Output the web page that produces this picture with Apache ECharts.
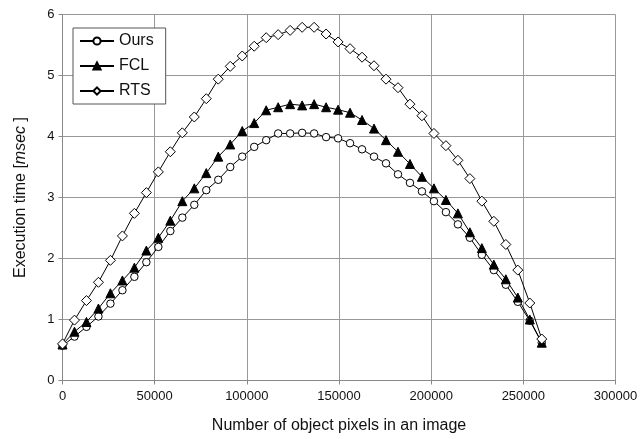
<!DOCTYPE html>
<html><head><meta charset="utf-8">
<script src="https://cdn.jsdelivr.net/npm/echarts@6/dist/echarts.min.js"></script>
<style>html,body{margin:0;padding:0;background:#fff}#c{width:641px;height:439px}</style>
</head><body><div id="c"></div>
<script>
var xStep = 6500;
var xValues = [];
for (var k = 0; k <= 40; k++) xValues.push(k * xStep);
var ours = [0.57,0.72,0.88,1.05,1.26,1.48,1.70,1.94,2.19,2.45,2.67,2.88,3.12,3.29,3.50,3.67,3.83,3.94,4.05,4.05,4.06,4.05,3.99,3.97,3.89,3.79,3.67,3.56,3.38,3.24,3.10,2.94,2.76,2.56,2.34,2.06,1.81,1.57,1.29,0.98,0.62];
var fcl = [0.59,0.80,0.96,1.18,1.43,1.64,1.85,2.13,2.34,2.62,2.94,3.15,3.40,3.67,3.87,4.09,4.22,4.43,4.48,4.53,4.51,4.53,4.48,4.44,4.39,4.27,4.13,3.94,3.75,3.55,3.34,3.15,2.96,2.74,2.43,2.17,1.90,1.66,1.36,1.00,0.62];
var rts = [0.60,0.99,1.31,1.61,1.97,2.37,2.74,3.08,3.42,3.75,4.06,4.32,4.62,4.94,5.15,5.32,5.48,5.62,5.67,5.74,5.79,5.79,5.68,5.55,5.44,5.30,5.16,4.94,4.80,4.53,4.34,4.05,3.85,3.61,3.31,2.94,2.61,2.23,1.81,1.27,0.68];
var names = ['Ours','FCL','RTS'];

function pairs(v){ return v.map(function(y,i){ return [xValues[i], y]; }); }
var font = 'Liberation Sans, Arial, sans-serif';
var chart = echarts.init(document.getElementById('c'));
function ser(name, data, symbol, size, fill){
  return {name:name, type:'line', data:pairs(data), symbol:symbol, symbolSize:size,
    showAllSymbol:true,
    lineStyle:{color:'#000', width:1},
    itemStyle:{color:fill, borderColor:'#000', borderWidth:1},
    emphasis:{disabled:true}, animation:false};
}
chart.setOption({
  animation:false,
  grid:{left:62.5, right:25.5, top:14.5, bottom:58.5, show:false},
  legend:{orient:'vertical', left:73, top:28, data:names,
    backgroundColor:'#fff', borderColor:'#555', borderWidth:1, padding:[5,12,5,6],
    itemWidth:34, itemHeight:9, itemGap:9,
    textStyle:{fontFamily:font, fontSize:16, color:'#111'}},
  xAxis:{type:'value', min:0, max:300000, interval:50000,
    name:'Number of object pixels in an image', nameLocation:'middle', nameGap:37,
    nameTextStyle:{fontFamily:font, fontSize:16, color:'#111'},
    axisLine:{show:true, lineStyle:{color:'#888'}},
    axisTick:{show:true, length:4, lineStyle:{color:'#888'}},
    axisLabel:{fontFamily:font, fontSize:13, color:'#111', margin:9,
      formatter:function(v){ return String(v); }},
    splitLine:{show:true, lineStyle:{color:'#999', width:1}}},
  yAxis:{type:'value', min:0, max:6, interval:1,
    name:'Execution time [{i|msec} ]', nameLocation:'middle', nameGap:34, nameRotate:90,
    nameTextStyle:{fontFamily:font, fontSize:16, color:'#111',
      rich:{i:{fontFamily:font, fontSize:16, fontStyle:'italic', color:'#111'}}},
    axisLine:{show:true, lineStyle:{color:'#888'}},
    axisTick:{show:true, length:4, lineStyle:{color:'#888'}},
    axisLabel:{fontFamily:font, fontSize:13, color:'#111', margin:8},
    splitLine:{show:true, lineStyle:{color:'#999', width:1}}},
  series:[
    ser('Ours', ours, 'circle', 7.5, '#fff'),
    ser('FCL', fcl, 'triangle', 9, '#000'),
    ser('RTS', rts, 'diamond', 10, '#fff')
  ]
});
</script></body></html>
